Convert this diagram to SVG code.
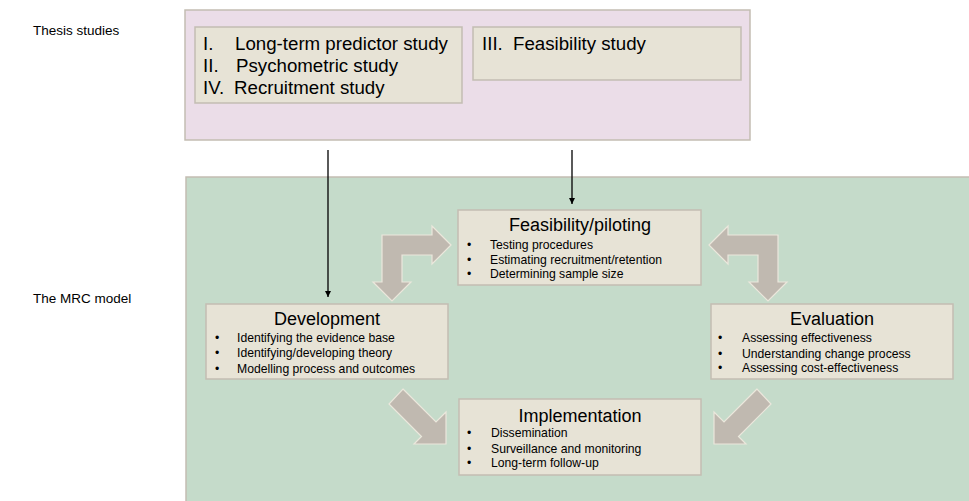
<svg xmlns="http://www.w3.org/2000/svg" width="969" height="501" viewBox="0 0 969 501">
<style>
.lbl{font-family:"Liberation Sans",Arial,sans-serif;font-size:13.5px;fill:#000}
.box{fill:#e7e3d6;stroke:#c3bdb2;stroke-width:1.5}
.study{font-family:"Liberation Sans",Arial,sans-serif;font-size:18.7px;fill:#000}
.title{font-family:"Liberation Sans",Arial,sans-serif;font-size:18px;fill:#000;text-anchor:middle}
.item{font-family:"Liberation Sans",Arial,sans-serif;font-size:12.2px;fill:#000}
.blk{fill:#c0b9b0;stroke:#ebe7dc;stroke-width:1.2;stroke-linejoin:miter}
.conn{stroke:#000;stroke-width:1.3;fill:none}
</style>
<defs>
<marker id="ah" markerWidth="8" markerHeight="8" refX="6" refY="4" orient="auto" markerUnits="userSpaceOnUse">
<path d="M0,1 L6,4 L0,7 Z" fill="#000"/>
</marker>
</defs>
<rect width="969" height="501" fill="#fff"/>
<g id="labels">
<text class="lbl" x="33" y="35">Thesis studies</text>
<text class="lbl" x="33" y="303">The MRC model</text>
</g>
<g id="thesis-studies">
<rect x="185" y="10" width="565" height="130" fill="#ebdde8" stroke="#c3bdb2" stroke-width="1.5"/>
<g id="studies-1-2-4">
<rect class="box" x="195" y="27" width="267" height="76"/>
<text class="study" x="203" y="50">I.</text>
<text class="study" x="235" y="50">Long-term predictor study</text>
<text class="study" x="203" y="72">II.</text>
<text class="study" x="236" y="72">Psychometric study</text>
<text class="study" x="203" y="94">IV.</text>
<text class="study" x="234" y="94">Recruitment study</text>
</g>
<g id="study-3">
<rect class="box" x="473" y="27" width="268" height="53"/>
<text class="study" x="482" y="50">III.</text>
<text class="study" x="513" y="50">Feasibility study</text>
</g>
</g>
<g id="mrc-model">
<rect x="186" y="177" width="790" height="330" fill="#c5dbca" stroke="#c3bdb2" stroke-width="1.5"/>
</g>
<g id="feasibility">
<rect class="box" x="458" y="210" width="243" height="75"/>
<text class="title" x="580" y="231">Feasibility/piloting</text>
<text class="item" x="467" y="249">•</text><text class="item" x="490" y="249">Testing procedures</text>
<text class="item" x="467" y="263.5">•</text><text class="item" x="490" y="263.5">Estimating recruitment/retention</text>
<text class="item" x="467" y="278">•</text><text class="item" x="490" y="278">Determining sample size</text>
</g>
<g id="development">
<rect class="box" x="206" y="304" width="242" height="75"/>
<text class="title" x="327" y="325">Development</text>
<text class="item" x="215" y="342">•</text><text class="item" x="237" y="342">Identifying  the evidence base</text>
<text class="item" x="215" y="357">•</text><text class="item" x="237" y="357">Identifying/developing  theory</text>
<text class="item" x="215" y="372.5">•</text><text class="item" x="237" y="372.5">Modelling process and outcomes</text>
</g>
<g id="evaluation">
<rect class="box" x="711" y="304" width="242" height="75"/>
<text class="title" x="832" y="325">Evaluation</text>
<text class="item" x="718" y="342">•</text><text class="item" x="742" y="342">Assessing effectiveness</text>
<text class="item" x="718" y="357.5">•</text><text class="item" x="742" y="357.5">Understanding  change  process</text>
<text class="item" x="718" y="372">•</text><text class="item" x="742" y="372">Assessing cost-effectiveness</text>
</g>
<g id="implementation">
<rect class="box" x="459" y="399" width="242" height="76"/>
<text class="title" x="580" y="422">Implementation</text>
<text class="item" x="467" y="437">•</text><text class="item" x="491" y="437">Dissemination</text>
<text class="item" x="467" y="453">•</text><text class="item" x="491" y="453">Surveillance  and monitoring</text>
<text class="item" x="467" y="467">•</text><text class="item" x="491" y="467">Long-term follow-up</text>
</g>
<g id="connectors">
<line class="conn" x1="328" y1="150" x2="328" y2="297" marker-end="url(#ah)"/>
<line class="conn" x1="572" y1="150" x2="572" y2="204" marker-end="url(#ah)"/>
<polygon class="blk" points="451,245 432,226 432,235 382,235 382,282 373,282 392,301 411,282 402,282 402,255 432,255 432,264"/>
<polygon class="blk" points="709,245 728,226 728,235 778,235 778,282 787,282 768,301 749,282 758,282 758,255 728,255 728,264"/>
<polygon class="blk" points="403,389 436,422 446,412 446,444 414,444 421.5,436.5 389,404"/>
<polygon class="blk" points="757,389 724,422 714,412 714,444 746,444 738.5,436.5 771,404"/>
</g>
</svg>
